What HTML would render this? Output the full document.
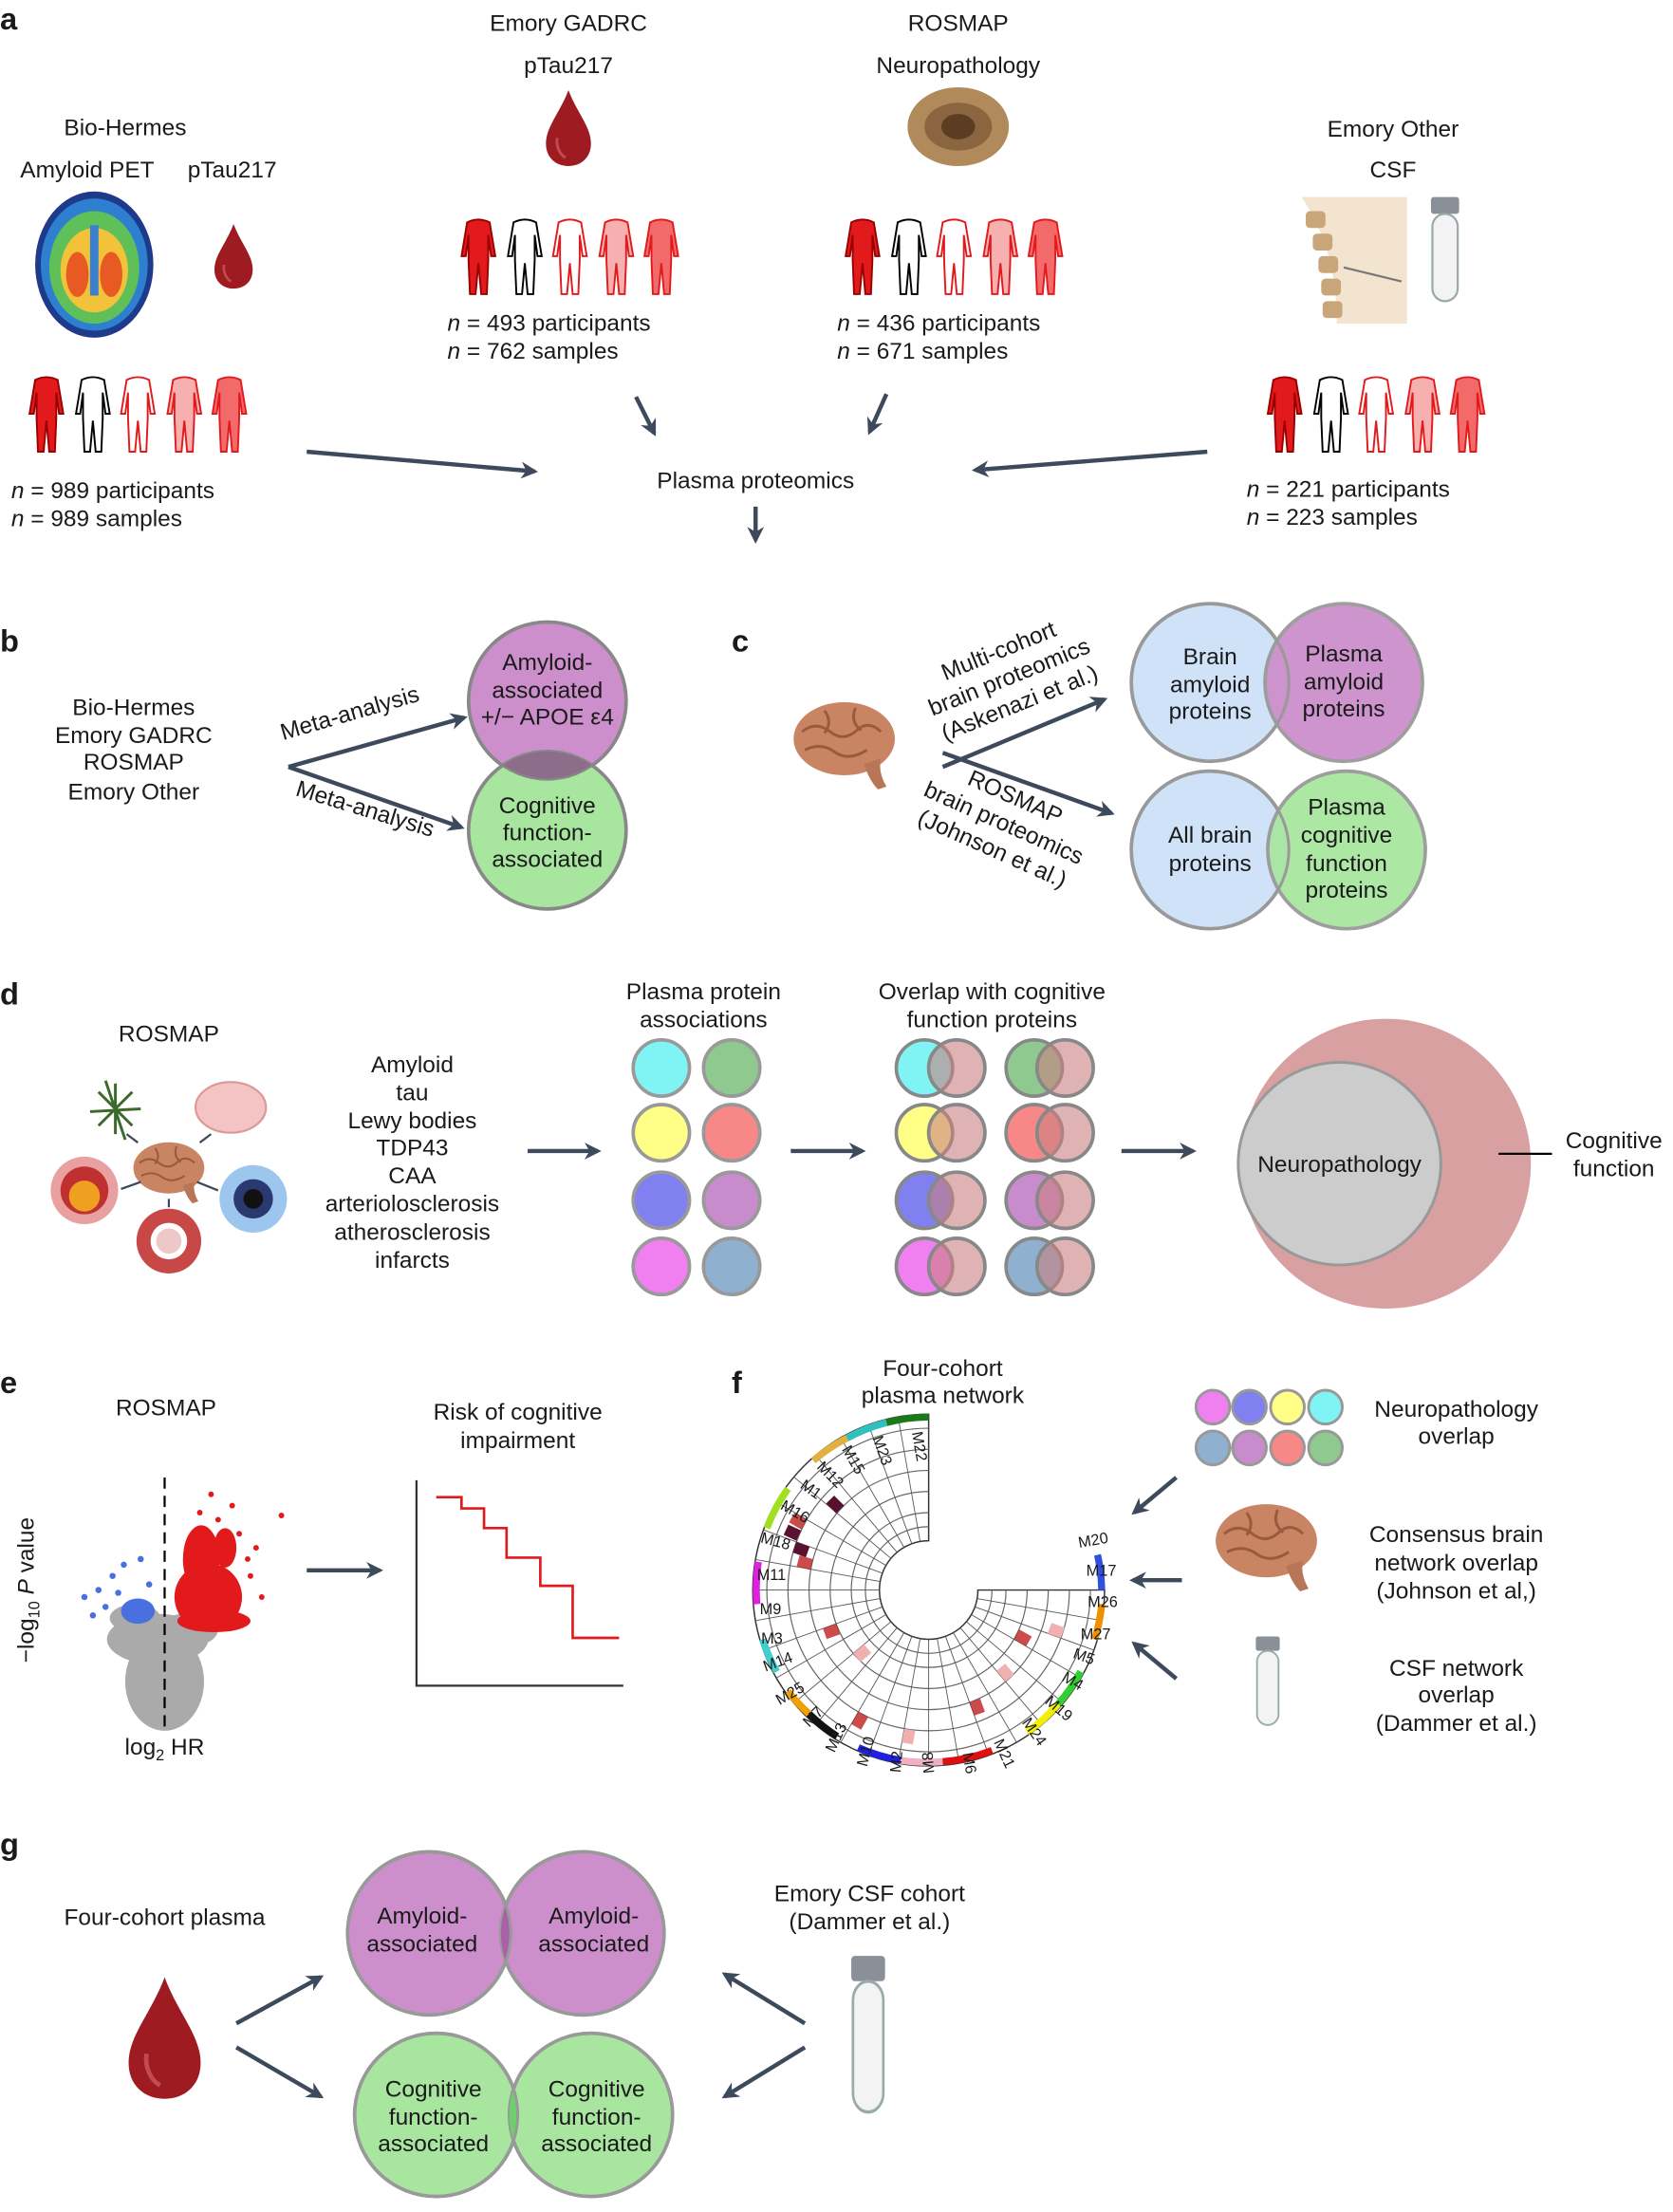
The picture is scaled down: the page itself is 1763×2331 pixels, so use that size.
<!DOCTYPE html>
<html><head><meta charset="utf-8"><style>
html,body{margin:0;padding:0;background:#fff}
svg{display:block}
text{font-family:"Liberation Sans",sans-serif;font-size:16.5px;fill:#1a1a1a}
.c{text-anchor:middle}
.lab{font-weight:bold;font-size:22px}
.ar{stroke:#3d4a5c;stroke-width:3;fill:none}
</style></head><body>
<svg width="1763" height="2331" viewBox="0 0 1189 1572" xmlns="http://www.w3.org/2000/svg">
<defs>
<marker id="ah" viewBox="0 0 10 10" refX="8" refY="5" markerWidth="4" markerHeight="4" orient="auto"><path d="M0,0 L10,5 L0,10 L3,5 Z" fill="#3d4a5c"/></marker>
<path id="per" d="M5,15 Q13,11 21,15 L25,39 L22,39 L20,24 L20,42 L19,66 L15,66 L13,44 L11,66 L7,66 L6,42 L6,24 L4,39 L1,39 Z"/>
<g id="drop"><path d="M0,-28 C6,-12 16,-2 16,10 C16,20 9,26 0,26 C-9,26 -16,20 -16,10 C-16,-2 -6,-12 0,-28Z" fill="#9e1b22"/><path d="M-8,6 C-9,12 -6,18 -2,20" stroke="#c24a50" stroke-width="2" fill="none"/></g>
<g id="brain"><ellipse cx="0" cy="0" rx="36" ry="26" fill="#c98463"/><path d="M-30,-5 q10,-8 20,0 q10,8 20,-2 q8,-6 16,2 M-28,8 q12,-6 22,2 q10,6 22,-2 M-14,-20 q6,8 0,16 M8,-22 q-4,10 4,16" stroke="#9a5a40" stroke-width="2" fill="none"/><path d="M14,18 q4,12 10,18 l6,-2 q-6,-10 -4,-20Z" fill="#b87658"/></g>
<g id="tube"><rect x="-10" y="0" width="20" height="12" rx="2" fill="#8a9098"/><rect x="-9" y="12" width="18" height="62" rx="9" fill="#f3f3f3" stroke="#9aa" stroke-width="1.5"/></g>
<clipPath id="cb1"><circle cx="389" cy="498" r="56"/></clipPath>
<clipPath id="cg1"><circle cx="305" cy="1374" r="58"/></clipPath>
<clipPath id="cg2"><circle cx="310" cy="1503" r="58"/></clipPath>
</defs>

<!-- Panel a -->
<text x="0" y="21" class="lab">a</text>
<text x="404" y="22" class="c">Emory GADRC</text>
<text x="404" y="52" class="c">pTau217</text>
<use href="#drop" x="404" y="92"/>
<text x="681" y="22" class="c">ROSMAP</text>
<text x="681" y="52" class="c">Neuropathology</text>
<ellipse cx="681" cy="90" rx="36" ry="28" fill="#b08a5a"/><ellipse cx="681" cy="90" rx="24" ry="17" fill="#8a6540"/><ellipse cx="681" cy="90" rx="12" ry="9" fill="#5a3d22"/>
<text x="89" y="96" class="c">Bio-Hermes</text>
<text x="62" y="126" class="c">Amyloid PET</text>
<text x="165" y="126" class="c">pTau217</text>
<ellipse cx="67" cy="188" rx="42" ry="52" fill="#1e3a8a"/><ellipse cx="67" cy="188" rx="38" ry="47" fill="#2f7fd0"/><ellipse cx="67" cy="190" rx="32" ry="40" fill="#5fc05a"/><ellipse cx="67" cy="192" rx="24" ry="30" fill="#f2c23a"/><ellipse cx="55" cy="195" rx="8" ry="16" fill="#e85a24"/><ellipse cx="79" cy="195" rx="8" ry="16" fill="#e85a24"/><rect x="64" y="160" width="6" height="50" fill="#3a7fd0"/>
<use href="#drop" x="166" y="183" transform="translate(166 183) scale(0.85) translate(-166 -183)"/>
<g stroke-width="1.3">
<g transform="translate(20,255)"><use href="#per" fill="#e31a1c" stroke="#900"/><use href="#per" x="33" fill="#fff" stroke="#000"/><use href="#per" x="65" fill="#fff" stroke="#e31a1c"/><use href="#per" x="98" fill="#f6b0b0" stroke="#e31a1c"/><use href="#per" x="130" fill="#f26a6a" stroke="#e31a1c"/></g>
<g transform="translate(327,143)"><use href="#per" fill="#e31a1c" stroke="#900"/><use href="#per" x="33" fill="#fff" stroke="#000"/><use href="#per" x="65" fill="#fff" stroke="#e31a1c"/><use href="#per" x="98" fill="#f6b0b0" stroke="#e31a1c"/><use href="#per" x="130" fill="#f26a6a" stroke="#e31a1c"/></g>
<g transform="translate(600,143)"><use href="#per" fill="#e31a1c" stroke="#900"/><use href="#per" x="33" fill="#fff" stroke="#000"/><use href="#per" x="65" fill="#fff" stroke="#e31a1c"/><use href="#per" x="98" fill="#f6b0b0" stroke="#e31a1c"/><use href="#per" x="130" fill="#f26a6a" stroke="#e31a1c"/></g>
<g transform="translate(900,255)"><use href="#per" fill="#e31a1c" stroke="#900"/><use href="#per" x="33" fill="#fff" stroke="#000"/><use href="#per" x="65" fill="#fff" stroke="#e31a1c"/><use href="#per" x="98" fill="#f6b0b0" stroke="#e31a1c"/><use href="#per" x="130" fill="#f26a6a" stroke="#e31a1c"/></g>
</g>
<text x="318" y="235"><tspan font-style="italic">n</tspan> = 493 participants</text>
<text x="318" y="255"><tspan font-style="italic">n</tspan> = 762 samples</text>
<text x="595" y="235"><tspan font-style="italic">n</tspan> = 436 participants</text>
<text x="595" y="255"><tspan font-style="italic">n</tspan> = 671 samples</text>
<text x="8" y="354"><tspan font-style="italic">n</tspan> = 989 participants</text>
<text x="8" y="374"><tspan font-style="italic">n</tspan> = 989 samples</text>
<text x="886" y="353"><tspan font-style="italic">n</tspan> = 221 participants</text>
<text x="886" y="373"><tspan font-style="italic">n</tspan> = 223 samples</text>
<text x="990" y="97" class="c">Emory Other</text>
<text x="990" y="126" class="c">CSF</text>
<path d="M925,140 C945,170 950,200 950,230 L1000,230 L1000,140Z" fill="#f3e4cf"/>
<g fill="#c9a57a"><rect x="928" y="150" width="14" height="12" rx="3"/><rect x="933" y="166" width="14" height="12" rx="3"/><rect x="937" y="182" width="14" height="12" rx="3"/><rect x="939" y="198" width="14" height="12" rx="3"/><rect x="940" y="214" width="14" height="12" rx="3"/></g>
<line x1="955" y1="190" x2="996" y2="200" stroke="#777" stroke-width="1.5"/>
<use href="#tube" x="1027" y="140"/>
<line x1="218" y1="321" x2="380" y2="335" class="ar" marker-end="url(#ah)"/>
<line x1="452" y1="282" x2="465" y2="308" class="ar" marker-end="url(#ah)"/>
<line x1="630" y1="280" x2="618" y2="307" class="ar" marker-end="url(#ah)"/>
<line x1="858" y1="321" x2="693" y2="334" class="ar" marker-end="url(#ah)"/>
<line x1="537" y1="360" x2="537" y2="384" class="ar" marker-end="url(#ah)"/>
<text x="537" y="347" class="c">Plasma proteomics</text>

<!-- Panel b -->
<text x="0" y="463" class="lab">b</text>
<text x="95" y="508" class="c">Bio-Hermes</text>
<text x="95" y="528" class="c">Emory GADRC</text>
<text x="95" y="547" class="c">ROSMAP</text>
<text x="95" y="568" class="c">Emory Other</text>
<line x1="205" y1="545" x2="328" y2="588" class="ar" marker-end="url(#ah)"/>
<line x1="205" y1="545" x2="330" y2="510" class="ar" marker-end="url(#ah)"/>
<text transform="translate(250,512) rotate(-16)" class="c">Meta-analysis</text>
<text transform="translate(258,580) rotate(17)" class="c">Meta-analysis</text>
<circle cx="389" cy="498" r="56" fill="#cc8fcb" stroke="#888" stroke-width="2.5"/>
<circle cx="389" cy="590" r="56" fill="#a8e6a0" stroke="#888" stroke-width="2.5"/>
<circle cx="389" cy="590" r="56" fill="#8c6e8a" clip-path="url(#cb1)"/>
<circle cx="389" cy="498" r="56" fill="none" stroke="#888" stroke-width="1.5"/>
<text x="389" y="476" class="c">Amyloid-</text><text x="389" y="496" class="c">associated</text><text x="389" y="515" class="c">+/− APOE ε4</text>
<text x="389" y="578" class="c">Cognitive</text><text x="389" y="597" class="c">function-</text><text x="389" y="616" class="c">associated</text>

<!-- Panel c -->
<text x="520" y="463" class="lab">c</text>
<use href="#brain" x="600" y="525"/>
<line x1="670" y1="545" x2="785" y2="497" class="ar" marker-end="url(#ah)"/>
<line x1="670" y1="535" x2="790" y2="578" class="ar" marker-end="url(#ah)"/>
<g transform="translate(720,488) rotate(-22)"><text x="0" y="-22" class="c">Multi-cohort</text><text x="0" y="-2" class="c">brain proteomics</text><text x="0" y="18" class="c">(Askenazi et al.)</text></g>
<g transform="translate(712,588) rotate(24)"><text x="0" y="-18" class="c">ROSMAP</text><text x="0" y="2" class="c">brain proteomics</text><text x="0" y="22" class="c">(Johnson et al.)</text></g>
<circle cx="860" cy="485" r="56" fill="#cfe2f7" stroke="#999" stroke-width="2.5"/>
<circle cx="955" cy="485" r="56" fill="#cc8fcb" stroke="#999" stroke-width="2.5" opacity="0.95"/>
<circle cx="860" cy="485" r="56" fill="none" stroke="#999" stroke-width="2"/>
<circle cx="860" cy="604" r="56" fill="#cfe2f7" stroke="#999" stroke-width="2.5"/>
<circle cx="957" cy="604" r="56" fill="#a8e6a0" stroke="#999" stroke-width="2.5" opacity="0.95"/>
<circle cx="860" cy="604" r="56" fill="none" stroke="#999" stroke-width="2"/>
<text x="860" y="472" class="c">Brain</text><text x="860" y="492" class="c">amyloid</text><text x="860" y="511" class="c">proteins</text>
<text x="955" y="470" class="c">Plasma</text><text x="955" y="490" class="c">amyloid</text><text x="955" y="509" class="c">proteins</text>
<text x="860" y="599" class="c">All brain</text><text x="860" y="619" class="c">proteins</text>
<text x="957" y="579" class="c">Plasma</text><text x="957" y="599" class="c">cognitive</text><text x="957" y="619" class="c">function</text><text x="957" y="638" class="c">proteins</text>

<!-- Panel d -->
<text x="0" y="714" class="lab">d</text>
<text x="120" y="740" class="c">ROSMAP</text>
<g stroke="#3c6a2c" stroke-width="2" fill="none"><path d="M82,806 L82,770 M70,776 L94,800 M94,776 L70,800 M64,790 L100,788 M75,768 L89,810"/></g>
<ellipse cx="164" cy="787" rx="25" ry="18" fill="#f4c4c4" stroke="#d99" stroke-width="1.5"/>
<use href="#brain" transform="translate(120,830) scale(0.7)"/>
<circle cx="60" cy="846" r="24" fill="#e8a0a0"/><circle cx="60" cy="846" r="17" fill="#c03030"/><circle cx="60" cy="850" r="11" fill="#f0a020"/>
<circle cx="180" cy="852" r="24" fill="#9cc6ee"/><circle cx="180" cy="852" r="14" fill="#2a3a70"/><circle cx="180" cy="852" r="7" fill="#111"/>
<circle cx="120" cy="882" r="23" fill="#c84848"/><circle cx="120" cy="882" r="13" fill="#fff"/><circle cx="120" cy="882" r="9" fill="#c84848" opacity="0.3"/>
<g stroke="#3d4a5c" stroke-width="1.5"><line x1="98" y1="812" x2="90" y2="806"/><line x1="142" y1="812" x2="150" y2="806"/><line x1="100" y1="840" x2="86" y2="845"/><line x1="140" y1="840" x2="155" y2="846"/><line x1="120" y1="852" x2="120" y2="858"/></g>
<text x="293" y="762" class="c">Amyloid</text><text x="293" y="782" class="c">tau</text><text x="293" y="802" class="c">Lewy bodies</text><text x="293" y="821" class="c">TDP43</text><text x="293" y="841" class="c">CAA</text><text x="293" y="861" class="c">arteriolosclerosis</text><text x="293" y="881" class="c">atherosclerosis</text><text x="293" y="901" class="c">infarcts</text>
<line x1="375" y1="818" x2="425" y2="818" class="ar" marker-end="url(#ah)"/>
<text x="500" y="710" class="c">Plasma protein</text><text x="500" y="730" class="c">associations</text>
<g stroke="#999" stroke-width="2.5">
<circle cx="470" cy="759" r="20" fill="#80f4f4"/><circle cx="520" cy="759" r="20" fill="#8fc98f"/>
<circle cx="470" cy="805" r="20" fill="#ffff88"/><circle cx="520" cy="805" r="20" fill="#f88888"/>
<circle cx="470" cy="853" r="20" fill="#8080f0"/><circle cx="520" cy="853" r="20" fill="#c88ccc"/>
<circle cx="470" cy="900" r="20" fill="#f080f0"/><circle cx="520" cy="900" r="20" fill="#90b0d0"/>
</g>
<line x1="562" y1="818" x2="613" y2="818" class="ar" marker-end="url(#ah)"/>
<text x="705" y="710" class="c">Overlap with cognitive</text><text x="705" y="730" class="c">function proteins</text>
<g stroke="#888" stroke-width="2.5">
<circle cx="657" cy="759" r="20" fill="#80f4f4"/><circle cx="735" cy="759" r="20" fill="#8fc98f"/>
<circle cx="657" cy="805" r="20" fill="#ffff88"/><circle cx="735" cy="805" r="20" fill="#f88888"/>
<circle cx="657" cy="853" r="20" fill="#8080f0"/><circle cx="735" cy="853" r="20" fill="#c88ccc"/>
<circle cx="657" cy="900" r="20" fill="#f080f0"/><circle cx="735" cy="900" r="20" fill="#90b0d0"/>
<g fill="#c98080" fill-opacity="0.6">
<circle cx="680" cy="759" r="20"/><circle cx="757" cy="759" r="20"/>
<circle cx="680" cy="805" r="20"/><circle cx="757" cy="805" r="20"/>
<circle cx="680" cy="853" r="20"/><circle cx="757" cy="853" r="20"/>
<circle cx="680" cy="900" r="20"/><circle cx="757" cy="900" r="20"/></g>
</g>
<line x1="797" y1="818" x2="848" y2="818" class="ar" marker-end="url(#ah)"/>
<circle cx="985" cy="827" r="103" fill="#d8a0a0"/>
<circle cx="952" cy="827" r="72" fill="#cccccc" stroke="#999" stroke-width="2"/>
<text x="952" y="833" class="c">Neuropathology</text>
<line x1="1065" y1="820" x2="1103" y2="820" stroke="#000" stroke-width="1.5"/>
<text x="1147" y="816" class="c">Cognitive</text><text x="1147" y="836" class="c">function</text>

<!-- Panel e -->
<text x="0" y="990" class="lab">e</text>
<text x="118" y="1006" class="c">ROSMAP</text>
<g fill="#aaa">
<ellipse cx="117" cy="1195" rx="28" ry="35"/><ellipse cx="112" cy="1165" rx="36" ry="18"/><ellipse cx="96" cy="1150" rx="18" ry="10"/><ellipse cx="135" cy="1158" rx="20" ry="12"/>
</g>
<g fill="#e31a1c"><ellipse cx="148" cy="1135" rx="24" ry="24"/><ellipse cx="143" cy="1108" rx="13" ry="24"/><ellipse cx="152" cy="1152" rx="26" ry="8"/><ellipse cx="160" cy="1100" rx="8" ry="14"/>
<circle cx="142" cy="1075" r="2"/><circle cx="155" cy="1080" r="2"/><circle cx="170" cy="1090" r="2"/><circle cx="182" cy="1100" r="2"/><circle cx="200" cy="1077" r="2"/><circle cx="165" cy="1070" r="2"/><circle cx="178" cy="1120" r="2"/><circle cx="186" cy="1135" r="2"/><circle cx="150" cy="1062" r="2"/><circle cx="176" cy="1108" r="2"/></g>
<g fill="#4a70e0"><ellipse cx="98" cy="1145" rx="12" ry="9"/><circle cx="60" cy="1135" r="2.2"/><circle cx="70" cy="1130" r="2.2"/><circle cx="80" cy="1120" r="2.2"/><circle cx="88" cy="1112" r="2.2"/><circle cx="100" cy="1108" r="2.2"/><circle cx="75" cy="1142" r="2.2"/><circle cx="66" cy="1148" r="2.2"/><circle cx="84" cy="1132" r="2.2"/><circle cx="106" cy="1126" r="2.2"/></g>
<line x1="117" y1="1050" x2="117" y2="1227" stroke="#000" stroke-width="1.5" stroke-dasharray="8,5"/>
<text transform="translate(24,1130) rotate(-90)" class="c">−log<tspan font-size="11" dy="4">10</tspan><tspan dy="-4"> </tspan><tspan font-style="italic">P</tspan> value</text>
<text x="117" y="1247" class="c">log<tspan font-size="11" dy="4">2</tspan><tspan dy="-4"> HR</tspan></text>
<line x1="218" y1="1116" x2="270" y2="1116" class="ar" marker-end="url(#ah)"/>
<text x="368" y="1009" class="c">Risk of cognitive</text><text x="368" y="1029" class="c">impairment</text>
<polyline points="296,1052 296,1198 443,1198" stroke="#333" stroke-width="1.5" fill="none"/>
<polyline points="310,1064 328,1064 328,1072 344,1072 344,1086 360,1086 360,1107 384,1107 384,1127 407,1127 407,1164 440,1164" stroke="#e31a1c" stroke-width="1.8" fill="none"/>

<!-- Panel f -->
<text x="520" y="990" class="lab">f</text>
<text x="670" y="978" class="c">Four-cohort</text><text x="670" y="997" class="c">plasma network</text>
<g transform="translate(660,1130)">
<path d="M0,-125 A125,125 0 1 0 125,0 L35,0 A35,35 0 1 1 0,-35Z" fill="#fff" stroke="#333" stroke-width="1"/>
<g fill="none" stroke="#666" stroke-width="0.8">
<path d="M0,-115 A115,115 0 1 0 115,0"/><path d="M0,-100 A100,100 0 1 0 100,0"/><path d="M0,-85 A85,85 0 1 0 85,0"/><path d="M0,-70 A70,70 0 1 0 70,0"/><path d="M0,-55 A55,55 0 1 0 55,0"/><path d="M0,-45 A45,45 0 1 0 45,0"/>
</g>
<g stroke="#555" stroke-width="0.6">
<line x1="0" y1="-35" x2="0" y2="-125" transform="rotate(-10)"/><line x1="0" y1="-35" x2="0" y2="-125" transform="rotate(-20)"/><line x1="0" y1="-35" x2="0" y2="-125" transform="rotate(-30)"/><line x1="0" y1="-35" x2="0" y2="-125" transform="rotate(-40)"/><line x1="0" y1="-35" x2="0" y2="-125" transform="rotate(-50)"/><line x1="0" y1="-35" x2="0" y2="-125" transform="rotate(-60)"/><line x1="0" y1="-35" x2="0" y2="-125" transform="rotate(-70)"/><line x1="0" y1="-35" x2="0" y2="-125" transform="rotate(-80)"/><line x1="0" y1="-35" x2="0" y2="-125" transform="rotate(-90)"/><line x1="0" y1="-35" x2="0" y2="-125" transform="rotate(-100)"/><line x1="0" y1="-35" x2="0" y2="-125" transform="rotate(-110)"/><line x1="0" y1="-35" x2="0" y2="-125" transform="rotate(-120)"/><line x1="0" y1="-35" x2="0" y2="-125" transform="rotate(-130)"/><line x1="0" y1="-35" x2="0" y2="-125" transform="rotate(-140)"/><line x1="0" y1="-35" x2="0" y2="-125" transform="rotate(-150)"/><line x1="0" y1="-35" x2="0" y2="-125" transform="rotate(-160)"/><line x1="0" y1="-35" x2="0" y2="-125" transform="rotate(-170)"/><line x1="0" y1="-35" x2="0" y2="-125" transform="rotate(-180)"/><line x1="0" y1="-35" x2="0" y2="-125" transform="rotate(-190)"/><line x1="0" y1="-35" x2="0" y2="-125" transform="rotate(-200)"/><line x1="0" y1="-35" x2="0" y2="-125" transform="rotate(-210)"/><line x1="0" y1="-35" x2="0" y2="-125" transform="rotate(-220)"/><line x1="0" y1="-35" x2="0" y2="-125" transform="rotate(-230)"/><line x1="0" y1="-35" x2="0" y2="-125" transform="rotate(-240)"/><line x1="0" y1="-35" x2="0" y2="-125" transform="rotate(-250)"/><line x1="0" y1="-35" x2="0" y2="-125" transform="rotate(-260)"/>
</g>
<g fill="#c02020" opacity="0.8"><rect x="-8" y="-110" width="8" height="10" transform="rotate(-60)"/><rect x="-8" y="-95" width="8" height="10" transform="rotate(-75)"/><rect x="-8" y="-80" width="8" height="10" transform="rotate(-110)"/><rect x="-8" y="-110" width="8" height="10" transform="rotate(-150)"/><rect x="-8" y="-95" width="8" height="10" transform="rotate(-200)"/><rect x="-8" y="-80" width="8" height="10" transform="rotate(-240)"/></g>
<g fill="#5a1030"><rect x="-8" y="-110" width="8" height="10" transform="rotate(-65)"/><rect x="-8" y="-100" width="8" height="10" transform="rotate(-70)"/><rect x="-8" y="-95" width="8" height="10" transform="rotate(-45)"/></g>
<g fill="#f0b0b0"><rect x="-8" y="-70" width="8" height="10" transform="rotate(-130)"/><rect x="-8" y="-110" width="8" height="10" transform="rotate(-170)"/><rect x="-8" y="-85" width="8" height="10" transform="rotate(-220)"/><rect x="-8" y="-100" width="8" height="10" transform="rotate(-250)"/></g>
<g fill="none" stroke-width="5">
<path d="M0,-123 A123,123 0 0 0 -30,-119" stroke="#1a7a1a"/><path d="M-30,-119 A123,123 0 0 0 -58,-108" stroke="#30c0c0"/><path d="M-58,-108 A123,123 0 0 0 -82,-92" stroke="#e0b040"/><path d="M-100,-72 A123,123 0 0 0 -115,-44" stroke="#a0e020"/><path d="M-121,-20 A123,123 0 0 0 -122,10" stroke="#e020e0"/><path d="M-118,35 A123,123 0 0 0 -108,58" stroke="#40d0d0"/><path d="M-100,72 A123,123 0 0 0 -85,88" stroke="#f0a000"/><path d="M-85,88 A123,123 0 0 0 -65,104" stroke="#111"/><path d="M-50,112 A123,123 0 0 0 -20,121" stroke="#2020e0"/><path d="M-20,121 A123,123 0 0 0 10,122" stroke="#f0b0c0"/><path d="M10,122 A123,123 0 0 0 45,114" stroke="#e01010"/><path d="M70,101 A123,123 0 0 0 92,81" stroke="#f0f000"/><path d="M92,81 A123,123 0 0 0 108,58" stroke="#30d030"/><path d="M118,35 A123,123 0 0 0 123,10" stroke="#f09000"/><path d="M123,0 A123,123 0 0 0 120,-25" stroke="#3050e0"/></g>
</g>
<g>
<text transform="translate(648,1018) rotate(80)" style="font-size:11px">M22</text><text transform="translate(620,1022) rotate(70)" style="font-size:11px">M23</text><text transform="translate(598,1030) rotate(60)" style="font-size:11px">M15</text><text transform="translate(580,1043) rotate(45)" style="font-size:11px">M12</text><text transform="translate(568,1057) rotate(35)" style="font-size:11px">M1</text><text transform="translate(554,1072) rotate(30)" style="font-size:11px">M16</text><text transform="translate(540,1096) rotate(15)" style="font-size:11px">M18</text><text x="538" y="1123" style="font-size:11px">M11</text><text x="540" y="1147" style="font-size:11px">M9</text><text x="541" y="1168" style="font-size:11px">M3</text><text transform="translate(544,1188) rotate(-20)" style="font-size:11px">M14</text><text transform="translate(554,1212) rotate(-30)" style="font-size:11px">M25</text><text transform="translate(575,1228) rotate(-45)" style="font-size:11px">M7</text><text transform="translate(593,1246) rotate(-65)" style="font-size:11px">M13</text><text transform="translate(616,1256) rotate(-75)" style="font-size:11px">M10</text><text transform="translate(640,1260) rotate(-85)" style="font-size:11px">M2</text><text transform="translate(664,1260) rotate(-95)" style="font-size:11px">M8</text><text transform="translate(684,1246) rotate(80)" style="font-size:11px">M6</text><text transform="translate(706,1238) rotate(65)" style="font-size:11px">M21</text><text transform="translate(726,1224) rotate(55)" style="font-size:11px">M24</text><text transform="translate(742,1210) rotate(40)" style="font-size:11px">M19</text><text transform="translate(754,1194) rotate(30)" style="font-size:11px">M4</text><text transform="translate(762,1178) rotate(20)" style="font-size:11px">M5</text><text x="768" y="1165" style="font-size:11px">M27</text><text x="773" y="1142" style="font-size:11px">M26</text><text x="772" y="1120" style="font-size:11px">M17</text><text transform="translate(767,1100) rotate(-10)" style="font-size:11px">M20</text>
</g>
<g stroke="#999" stroke-width="2">
<circle cx="862" cy="1000" r="12" fill="#f080f0"/><circle cx="888" cy="1000" r="12" fill="#8080f0"/><circle cx="915" cy="1000" r="12" fill="#ffff88"/><circle cx="942" cy="1000" r="12" fill="#80f4f4"/>
<circle cx="862" cy="1029" r="12" fill="#90b0d0"/><circle cx="888" cy="1029" r="12" fill="#c88ccc"/><circle cx="915" cy="1029" r="12" fill="#f88888"/><circle cx="942" cy="1029" r="12" fill="#8fc98f"/>
</g>
<text x="1035" y="1007" class="c">Neuropathology</text><text x="1035" y="1026" class="c">overlap</text>
<line x1="836" y1="1050" x2="806" y2="1075" class="ar" marker-end="url(#ah)"/>
<use href="#brain" x="900" y="1095"/>
<text x="1035" y="1096" class="c">Consensus brain</text><text x="1035" y="1116" class="c">network overlap</text><text x="1035" y="1136" class="c">(Johnson et al,)</text>
<line x1="840" y1="1123" x2="805" y2="1123" class="ar" marker-end="url(#ah)"/>
<use href="#tube" transform="translate(901,1163) scale(0.85)"/>
<text x="1035" y="1191" class="c">CSF network</text><text x="1035" y="1210" class="c">overlap</text><text x="1035" y="1230" class="c">(Dammer et al.)</text>
<line x1="836" y1="1193" x2="806" y2="1168" class="ar" marker-end="url(#ah)"/>

<!-- Panel g -->
<text x="0" y="1318" class="lab">g</text>
<text x="117" y="1368" class="c">Four-cohort plasma</text>
<use href="#drop" transform="translate(117,1450) scale(1.6)"/>
<line x1="168" y1="1438" x2="228" y2="1405" class="ar" marker-end="url(#ah)"/>
<line x1="168" y1="1455" x2="228" y2="1490" class="ar" marker-end="url(#ah)"/>
<circle cx="305" cy="1374" r="58" fill="#cc8fcb" stroke="#999" stroke-width="2.5"/>
<circle cx="414" cy="1374" r="58" fill="#cc8fcb" stroke="#999" stroke-width="2.5"/>
<circle cx="414" cy="1374" r="58" fill="#a860a8" clip-path="url(#cg1)"/>
<circle cx="305" cy="1374" r="58" fill="none" stroke="#999" stroke-width="2"/>
<circle cx="310" cy="1503" r="58" fill="#a8e6a0" stroke="#999" stroke-width="2.5"/>
<circle cx="420" cy="1503" r="58" fill="#a8e6a0" stroke="#999" stroke-width="2.5"/>
<circle cx="420" cy="1503" r="58" fill="#6ed06a" clip-path="url(#cg2)"/>
<circle cx="310" cy="1503" r="58" fill="none" stroke="#999" stroke-width="2"/>
<text x="300" y="1367" class="c">Amyloid-</text><text x="300" y="1387" class="c">associated</text>
<text x="422" y="1367" class="c">Amyloid-</text><text x="422" y="1387" class="c">associated</text>
<text x="308" y="1490" class="c">Cognitive</text><text x="308" y="1510" class="c">function-</text><text x="308" y="1529" class="c">associated</text>
<text x="424" y="1490" class="c">Cognitive</text><text x="424" y="1510" class="c">function-</text><text x="424" y="1529" class="c">associated</text>
<text x="618" y="1351" class="c">Emory CSF cohort</text><text x="618" y="1371" class="c">(Dammer et al.)</text>
<use href="#tube" transform="translate(617,1390) scale(1.2,1.5)"/>
<line x1="572" y1="1438" x2="515" y2="1403" class="ar" marker-end="url(#ah)"/>
<line x1="572" y1="1455" x2="515" y2="1490" class="ar" marker-end="url(#ah)"/>
</svg>
</body></html>
